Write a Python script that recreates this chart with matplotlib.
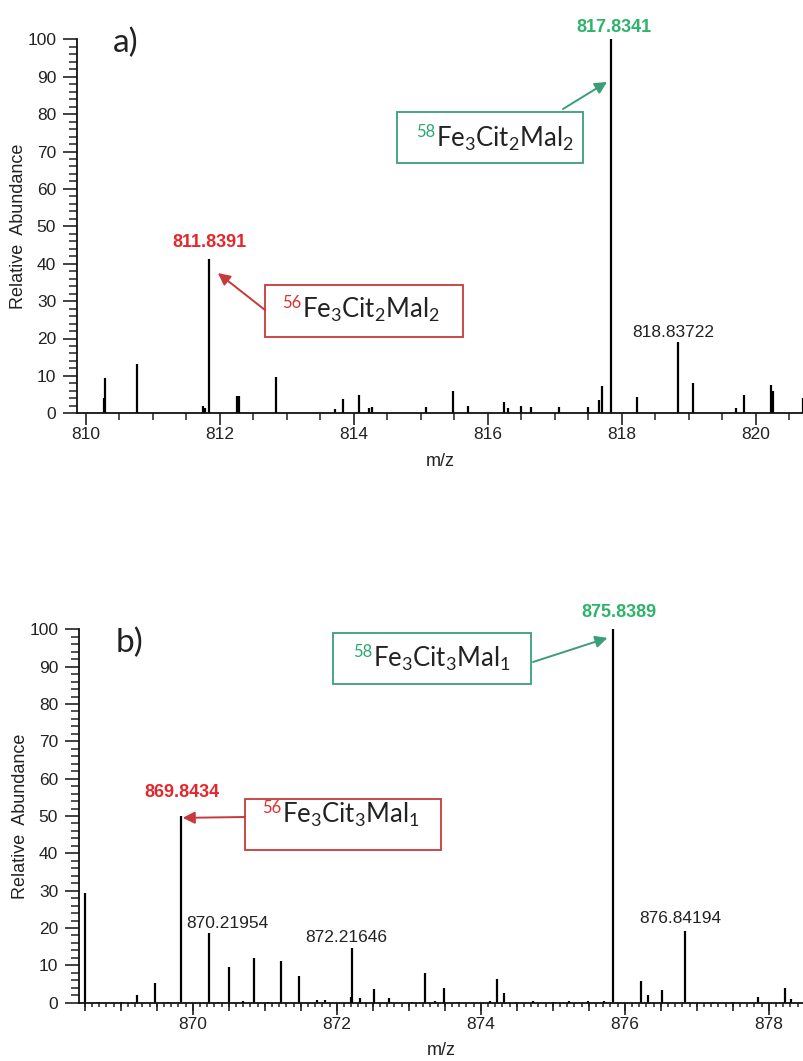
import matplotlib.pyplot as plt
from matplotlib.ticker import MultipleLocator, NullLocator
from matplotlib.patches import Rectangle

W, H = 804, 1061
plt.rcParams['font.family'] = ['Liberation Sans', 'DejaVu Sans']
plt.rcParams['mathtext.default'] = 'regular'

# ---- data: panel a (m/z 810-821)
a_mz = [810.27, 810.29, 810.76, 811.75, 811.78, 811.8391, 812.26, 812.28,
        812.84, 813.72, 813.84, 814.07, 814.22, 814.27, 815.07, 815.48,
        815.71, 816.24, 816.30, 816.49, 816.65, 817.06, 817.49, 817.66,
        817.70, 817.8341, 818.23, 818.83722, 819.06, 819.70, 819.82,
        820.22, 820.26, 820.71]
a_int = [4, 9.5, 13.2, 2, 1.5, 41.3, 4.7, 4.5,
         9.6, 1.2, 3.8, 4.9, 1.5, 1.8, 1.8, 5.9,
         2, 3, 1.5, 2, 1.8, 1.6, 1.8, 3.5,
         7.2, 100, 4.3, 19, 8.2, 1.3, 4.9,
         7.6, 6, 4.2]

# ---- data: panel b (m/z 868-878)
b_mz = [868.51, 868.7, 869.0, 869.22, 869.48, 869.65, 869.8434, 870.21954,
        870.35, 870.51, 870.7, 870.85, 871.05, 871.22, 871.48, 871.72,
        871.84, 872.20, 872.21646, 872.32, 872.52, 872.72, 873.05, 873.22,
        873.36, 873.49, 873.7, 874.13, 874.23, 874.33, 874.49, 874.72,
        875.0, 875.22, 875.49, 875.71, 875.8389, 876.23, 876.32, 876.52,
        876.84194, 877.22, 877.5, 877.85, 878.23, 878.31]
b_int = [29.3, 0.3, 0.3, 2.1, 5.2, 0.3, 50, 18.8,
         0.3, 9.6, 0.4, 11.9, 0.3, 11.2, 7.2, 0.8,
         0.8, 1.5, 14.7, 1.3, 3.7, 1.2, 0.3, 8.0,
         0.5, 3.9, 0.3, 0.5, 6.3, 2.7, 0.3, 0.5,
         0.3, 0.5, 0.4, 0.4, 100, 5.8, 2.1, 3.4,
         19.3, 0.3, 0.3, 1.4, 3.9, 1.0]

# labelled peaks: m/z, height, text
a_labels = [(811.8391, 41.3, '811.8391'), (817.8341, 100, '817.8341'),
            (818.83722, 19, '818.83722')]
b_labels = [(869.8434, 50, '869.8434'), (875.8389, 100, '875.8389'),
            (870.21954, 18.8, '870.21954'), (872.21646, 14.7, '872.21646'),
            (876.84194, 19.3, '876.84194')]
# label styles (color, weight, dx, dy in points)
a_lab_style = [('#e5262b', 'bold', 0, 8.5), ('#2eb36b', 'bold', 2, 5),
               ('#222222', 'normal', -3.6, 3.6)]
b_lab_style = [('#e5262b', 'bold', 0, 13.5), ('#2eb36b', 'bold', 4, 8.5),
               ('#222222', 'normal', 13.3, 3.6), ('#222222', 'normal', -4.2, 4.3),
               ('#222222', 'normal', -3.3, 5.8)]

RED_BOX = '#c8393b'
GRN_BOX = '#3a9e78'
RED_TXT = '#e0302f'
GRN_TXT = '#2ca873'


def fx(x):
    return x / W


def fy(y):
    return 1 - y / H


fig = plt.figure(figsize=(W / 100, H / 100), dpi=100)
ax_a = fig.add_axes([fx(77), fy(413.3), 1 - fx(77), 374 / H])
ax_b = fig.add_axes([fx(79), fy(1002.7), 1 - fx(79), 373.4 / H])


def setup(ax, xlim, minor_x, minor_len):
    ax.set_xlim(*xlim)
    ax.set_ylim(0, 100)
    ax.patch.set_alpha(0)
    for s in ['top', 'right']:
        ax.spines[s].set_visible(False)
    for s in ['left', 'bottom']:
        ax.spines[s].set_linewidth(1.3)
        ax.spines[s].set_color('#111111')
    ax.xaxis.set_major_locator(MultipleLocator(2))
    ax.xaxis.set_minor_locator(MultipleLocator(minor_x))
    ax.yaxis.set_major_locator(MultipleLocator(10))
    ax.yaxis.set_minor_locator(MultipleLocator(2))
    ax.tick_params(axis='y', which='major', length=10, width=1.2, labelsize=12.5,
                   pad=5, colors='#222222')
    ax.tick_params(axis='y', which='minor', length=5.5, width=1.1, colors='#222222')
    ax.tick_params(axis='x', which='major', length=8.6, width=1.2, labelsize=12.5,
                   pad=1.5, colors='#222222')
    ax.tick_params(axis='x', which='minor', length=minor_len, width=1.1,
                   colors='#222222')
    ax.set_ylabel('Relative  Abundance', fontsize=13, color='#222222')
    ax.yaxis.set_label_coords(-0.069, 0.5)
    ax.set_xlabel('m/z', fontsize=13, color='#222222')
    ax.xaxis.set_label_coords(0.5, -0.105)


setup(ax_a, (809.866, 820.72), 0.5, 5)
setup(ax_b, (868.42, 878.49), 0.1, 2.9)

# middle-length ticks every 0.5 on panel b
sec = ax_b.secondary_xaxis('bottom')
sec.xaxis.set_major_locator(MultipleLocator(0.5))
sec.xaxis.set_minor_locator(NullLocator())
sec.tick_params(length=5.8, width=1.2, labelbottom=False, colors='#222222')
sec.spines['bottom'].set_visible(False)

ax_a.vlines(a_mz, 0, a_int, color='black', lw=1.6, clip_on=False)
ax_b.vlines(b_mz, 0, b_int, color='black', lw=1.6, clip_on=False)

for ax, labels, styles in [(ax_a, a_labels, a_lab_style), (ax_b, b_labels, b_lab_style)]:
    for (mz, h, txt), (col, wt, dx, dy) in zip(labels, styles):
        ax.annotate(txt, xy=(mz, h), xytext=(dx, dy), textcoords='offset points',
                    ha='center', va='baseline', color=col, fontweight=wt,
                    fontsize=13 if wt == 'bold' else 12.5, annotation_clip=False)

# panel letters
fig.text(fx(113), fy(52), 'a)', fontsize=24, family=['Lato', 'DejaVu Sans'],
         color='#222222', va='baseline')
fig.text(fx(116), fy(652), 'b)', fontsize=24, family=['Lato', 'DejaVu Sans'],
         color='#222222', va='baseline')


def formula_box(ax, iso, formula, box, main_x, base_y, edge, sup_col, tail, tip):
    x0, y0, x1, y1 = box
    fig.patches.append(Rectangle((fx(x0), fy(y1)), fx(x1) - fx(x0), fy(y0) - fy(y1),
                                 transform=fig.transFigure, fill=False,
                                 edgecolor=edge, lw=1.3))
    fig.text(fx(main_x - 0.5), fy(base_y - 10), iso, fontsize=12, color=sup_col,
             family=['Lato', 'DejaVu Sans'], va='baseline', ha='right')
    fig.text(fx(main_x), fy(base_y), formula, fontsize=18.5, color='#222222',
             family=['Lato', 'DejaVu Sans'], va='baseline')
    ax.annotate('', xy=tip, xycoords='data',
                xytext=(fx(tail[0]), fy(tail[1])), textcoords='figure fraction',
                arrowprops=dict(arrowstyle='-|>', color=edge, lw=1.4,
                                mutation_scale=18, shrinkA=0, shrinkB=0),
                annotation_clip=False)


formula_box(ax_a, '56', r'Fe$_3$Cit$_2$Mal$_2$', (265, 285, 463, 337), 302, 318,
            RED_BOX, RED_TXT, (265, 310), (811.97, 37.5))
formula_box(ax_a, '58', r'Fe$_3$Cit$_2$Mal$_2$', (397, 112, 583, 163), 436, 147,
            GRN_BOX, GRN_TXT, (563, 109), (817.78, 88.6))
formula_box(ax_b, '58', r'Fe$_3$Cit$_3$Mal$_1$', (333, 633, 531, 684), 373, 667,
            GRN_BOX, GRN_TXT, (533, 662), (875.76, 97.7))
formula_box(ax_b, '56', r'Fe$_3$Cit$_3$Mal$_1$', (245, 799, 441, 850), 282, 823,
            RED_BOX, RED_TXT, (245, 817), (869.86, 49.5))

fig.savefig('out.png', dpi=100)
